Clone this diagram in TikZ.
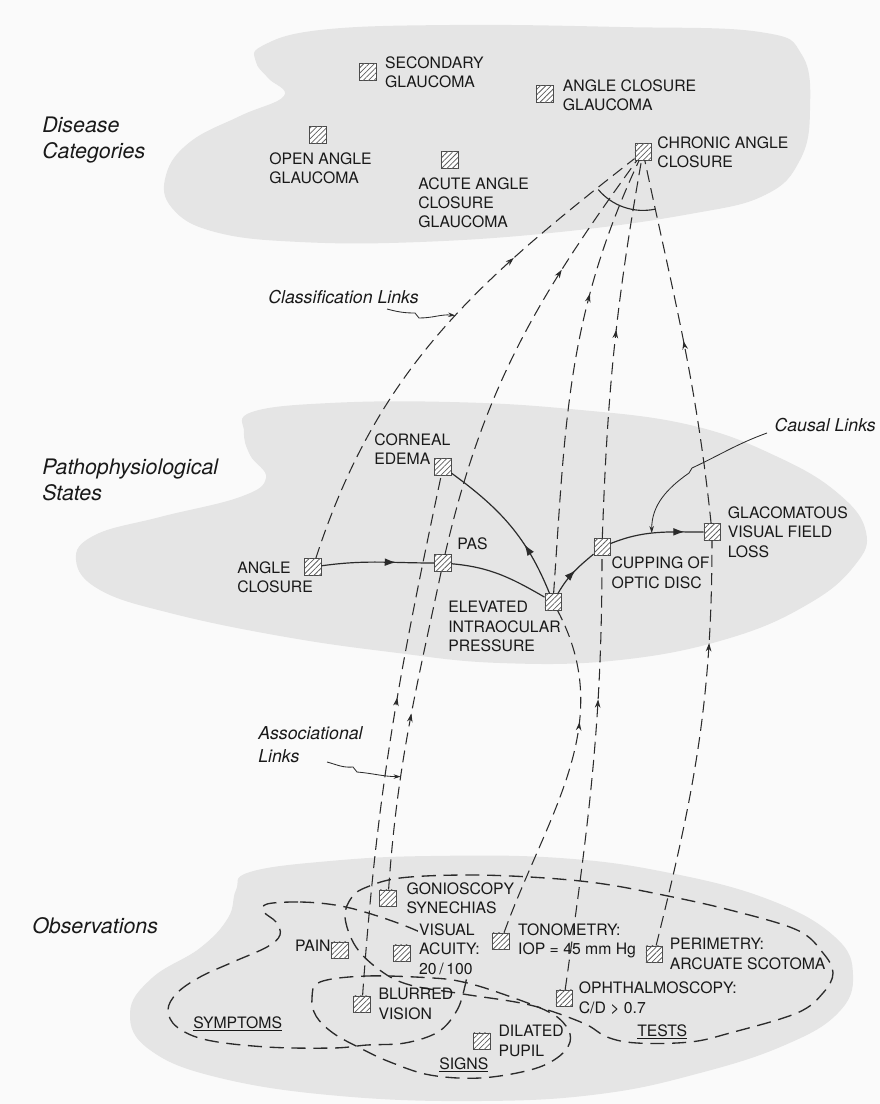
\documentclass[tikz,border=0pt]{standalone}
\usepackage{fontspec}
\setmainfont{TeX Gyre Heros}
\usepackage{tikz}
\usetikzlibrary{arrows.meta,positioning,decorations.markings,patterns.meta}
\definecolor{BlobGray}{HTML}{E5E5E5}
\definecolor{InkGray}{HTML}{2B2B2B}
\definecolor{PaperWhite}{HTML}{FAFAFA}
\newcommand{\lblfnt}{\fontsize{11.2}{13.8}\selectfont}
\newcommand{\catfnt}{\fontsize{15.2}{18.5}\selectfont\itshape}
\newcommand{\ptrfnt}{\fontsize{12.6}{16.4}\selectfont\itshape}

\begin{document}
\begin{tikzpicture}[x=.025cm,y=-.025cm,>=Stealth,
  hatchbox/.style={draw=InkGray!85,line width=.7pt,fill=white,minimum size=11.4pt,inner sep=0pt,
    postaction={pattern={Lines[angle=45,distance=2.7pt,line width=.55pt]},pattern color=InkGray!75}},
  lbl/.style={font=\lblfnt,align=left,inner sep=0pt,text=black!90},
  cat/.style={font=\catfnt,align=left,inner sep=0pt,text=black!90},
  ptr/.style={font=\ptrfnt,align=left,inner sep=0pt,text=black!90},
  grp/.style={font=\lblfnt,inner sep=0pt,text=black!90},
  assoc/.style={draw=InkGray,line width=.75pt,dash pattern=on 8.5pt off 4.5pt},
  causal/.style={draw=InkGray,line width=.85pt},
  grouploop/.style={draw=InkGray,line width=.95pt,dash pattern=on 10pt off 5.5pt},
  pointer/.style={draw=InkGray,line width=.6pt,-{Stealth[length=5pt,width=3.2pt]}},
  midarrow/.style={postaction={decorate,decoration={markings,
    mark=at position #1 with {\arrow{Stealth[length=6pt,width=4pt]}}}}},
  midtri/.style={postaction={decorate,decoration={markings,
    mark=at position #1 with {\arrow{Latex[length=8pt,width=5.5pt]}}}}}]

  % page and the three layers
  \fill[PaperWhite] (0,0) rectangle (880,1104);
  \useasboundingbox (0,0) rectangle (880,1104);
  \fill[BlobGray] plot[smooth cycle,tension=.7] coordinates
    {(262,46)(320,30)(450,25)(620,27)(760,32)(802,55)(810,110)(800,160)
     (765,195)(690,214)(560,232)(420,242)(300,242)(215,232)(172,208)
     (166,175)(190,142)(240,116)(284,96)(268,78)(256,62)};
  \fill[BlobGray] plot[smooth cycle,tension=.7] coordinates
    {(252,412)(330,403)(450,402)(570,409)(690,425)(780,458)(840,495)
     (866,532)(855,565)(810,603)(730,638)(620,660)(500,663)(390,652)
     (280,636)(170,613)(100,590)(76,560)(95,535)(160,517)(240,497)
     (266,478)(250,455)(244,432)};
  \fill[BlobGray] plot[smooth cycle,tension=.7] coordinates
    {(250,872)(330,861)(430,856)(560,858)(670,873)(770,900)(835,937)
     (853,975)(838,1013)(785,1045)(700,1073)(600,1094)(480,1101)
     (340,1096)(220,1078)(150,1050)(130,1013)(152,978)(200,948)
     (228,918)(236,890)};

  % groups of observations
  \draw[grouploop] plot[smooth cycle,tension=.6] coordinates
    {(267,904)(300,902)(335,905)(368,913)(413,929)(450,948)(466,968)
     (464,990)(456,1012)(438,1032)(405,1043)(367,1045)(333,1048)
     (267,1047)(207,1040)(177,1027)(168,1010)(177,993)(200,977)
     (233,962)(267,947)(280,935)(276,922)(264,912)};
  \draw[grouploop] plot[smooth cycle,tension=.6] coordinates
    {(320,982)(367,976)(433,978)(463,982)(497,992)(547,1011)(566,1026)
     (570,1042)(557,1058)(530,1070)(480,1078)(430,1075)(390,1062)
     (360,1048)(333,1033)(316,1016)(312,998)};
  \draw[grouploop] plot[smooth cycle,tension=.6] coordinates
    {(367,887)(400,878)(463,875)(530,877)(597,883)(663,895)(730,910)
     (797,930)(823,953)(833,973)(823,993)(797,1013)(730,1033)(690,1042)
     (637,1043)(607,1037)(583,1023)(530,1005)(463,994)(410,985)
     (381,971)(356,947)(345,917)(352,897)};

  % layer names
  \node[cat,anchor=west] (dislab) at (42,140) {Disease\\Categories};
  \node[cat,anchor=west] (patlab) at (42,480) {Pathophysiological\\States};
  \node[cat,anchor=west] (obslab) at (32,926) {Observations};

  % disease categories
  \node[hatchbox] (secgl) at (368,72) {};
  \node[lbl,right=6pt of secgl] (secgl-t) {SECONDARY\\GLAUCOMA};
  \node[hatchbox] (acgl) at (545,94) {};
  \node[lbl,right=6.5pt of acgl,yshift=-1pt] (acgl-t) {ANGLE CLOSURE\\GLAUCOMA};
  \node[hatchbox] (oagl) at (318,135) {};
  \node[lbl,anchor=north west] (oagl-t) at (269,152) {OPEN ANGLE\\GLAUCOMA};
  \node[hatchbox] (aacg) at (450,160) {};
  \node[lbl,anchor=north west] (aacg-t) at (418,177) {ACUTE ANGLE\\CLOSURE\\GLAUCOMA};
  \node[hatchbox] (cac) at (643,152) {};
  \node[lbl,right=4pt of cac] (cac-t) {CHRONIC ANGLE\\CLOSURE};

  % pathophysiological states
  \node[hatchbox] (cored) at (443,467) {};
  \node[lbl,anchor=north west] (cored-t) at (374,433) {CORNEAL\\EDEMA};
  \node[hatchbox] (pas) at (443,563) {};
  \node[lbl,above right=3pt and 4pt of pas] (pas-t) {PAS};
  \node[hatchbox] (angcl) at (313,567) {};
  \node[lbl,anchor=north west] (angcl-t) at (237,561) {ANGLE\\CLOSURE};
  \node[hatchbox] (eiop) at (553,602) {};
  \node[lbl,anchor=north west] (eiop-t) at (448,601) {ELEVATED\\INTRAOCULAR\\PRESSURE};
  \node[hatchbox] (cupping) at (602,547) {};
  \node[lbl,below right=1pt and .5pt of cupping] (cupping-t) {CUPPING OF\\OPTIC DISC};
  \node[hatchbox] (gvfl) at (712,532) {};
  \node[lbl,right=5pt of gvfl] (gvfl-t) {GLACOMATOUS\\VISUAL FIELD\\LOSS};

  % observations
  \node[hatchbox] (gonio) at (388,898) {};
  \node[lbl,right=7pt of gonio] (gonio-t) {GONIOSCOPY\\SYNECHIAS};
  \node[hatchbox] (pain) at (340,950) {};
  \node[lbl,left=.5pt of pain,yshift=2.8pt] (pain-t) {PAIN};
  \node[hatchbox] (visacu) at (402,953) {};
  \node[lbl,right=5pt of visacu,yshift=2.8pt,fill=BlobGray,inner sep=1pt] (visacu-t)
    {VISUAL\\ACUITY:\\20\,/\,100};
  \node[hatchbox] (tono) at (501,941) {};
  \node[lbl,right=6pt of tono] (tono-t) {TONOMETRY:\\IOP = 45 mm Hg};
  \node[hatchbox] (perim) at (654,954) {};
  \node[lbl,right=5pt of perim] (perim-t) {PERIMETRY:\\ARCUATE SCOTOMA};
  \node[hatchbox] (blurred) at (362,1004) {};
  \node[lbl,right=5.5pt of blurred] (blurred-t) {BLURRED\\VISION};
  \node[hatchbox] (ophth) at (564,998) {};
  \node[lbl,right=4.3pt of ophth] (ophth-t) {OPHTHALMOSCOPY:\\C/D > 0.7};
  \node[hatchbox] (dilated) at (482,1041) {};
  \node[lbl,right=5.5pt of dilated] (dilated-t) {DILATED\\PUPIL};
  \node[grp,anchor=base west] (symp-t) at (193,1028) {\underline{SYMPTOMS}};
  \node[grp,anchor=base west] (signs-t) at (439,1069) {\underline{SIGNS}};
  \node[grp,anchor=base west] (tests-t) at (637,1036) {\underline{TESTS}};

  % associational links
  \draw[assoc,midarrow=.57] (blurred) to[out=86,in=-102] (cored);
  \draw[assoc,midarrow=.55] (gonio) to[out=86,in=-102] coordinate[pos=.34] (bhit) (pas);
  \draw[assoc,midarrow=.66] (tono) to[out=70,in=-62] (eiop);
  \draw[assoc,midarrow=.67] (ophth) to[out=82,in=-90] (cupping);
  \draw[assoc,midarrow=.75] (perim) to[out=76,in=-90] (gvfl);

  % classification links
  \draw[assoc,midarrow=.7] (angcl) to[out=72,in=-142] coordinate[pos=.55] (clhit) (cac);
  \draw[assoc,midarrow=.7] (pas) to[out=77,in=-126] (cac);
  \draw[assoc,midarrow=.68] (eiop) to[out=86,in=-115] (cac);
  \draw[assoc,midarrow=.55] (cupping) to[out=88,in=-100] (cac);
  \draw[assoc,midarrow=.5] (gvfl) to[out=96,in=-78] (cac);
  \draw[InkGray,line width=.8pt] (cac.center) ++(220:1.46cm)
    arc[start angle=220,end angle=282,radius=1.46cm];

  % causal links
  \draw[causal,midtri=.66] (angcl) to[out=8,in=180] (pas);
  \draw[causal] (pas) to[out=-5,in=150] (eiop);
  \draw[causal,midtri=.35] (eiop) to[out=112,in=-36] (cored);
  \draw[causal,midtri=.55] (eiop) to[out=60,in=-140] (cupping);
  \draw[causal,midtri=.8] (cupping) to[out=22,in=180] coordinate[pos=.45] (khit) (gvfl);

  % pointers to the kinds of links
  \node[ptr,anchor=west] (cl-t) at (268,297) {Classification Links};
  \node[ptr,anchor=west] (al-t) at (258,745) {Associational\\Links};
  \node[ptr,anchor=east] (cs-t) at (876,425) {Causal Links};
  \coordinate (clfrom) at (387,309);
  \coordinate (alfrom) at (327,762);
  \coordinate (csfrom) at (767,433);
  \draw[pointer] (clfrom) to[out=-15,in=180] ++(28,4) -- ++(4,5) to[out=0,in=175] (clhit);
  \draw[pointer] (alfrom) to[out=-15,in=185] ++(26,5) -- ++(4,5) to[out=-5,in=180] (bhit);
  \draw[pointer] (csfrom) to[out=200,in=25] ++(-75,35) -- ++(-3,5) to[out=215,in=90] (khit);
\end{tikzpicture}
\end{document}
